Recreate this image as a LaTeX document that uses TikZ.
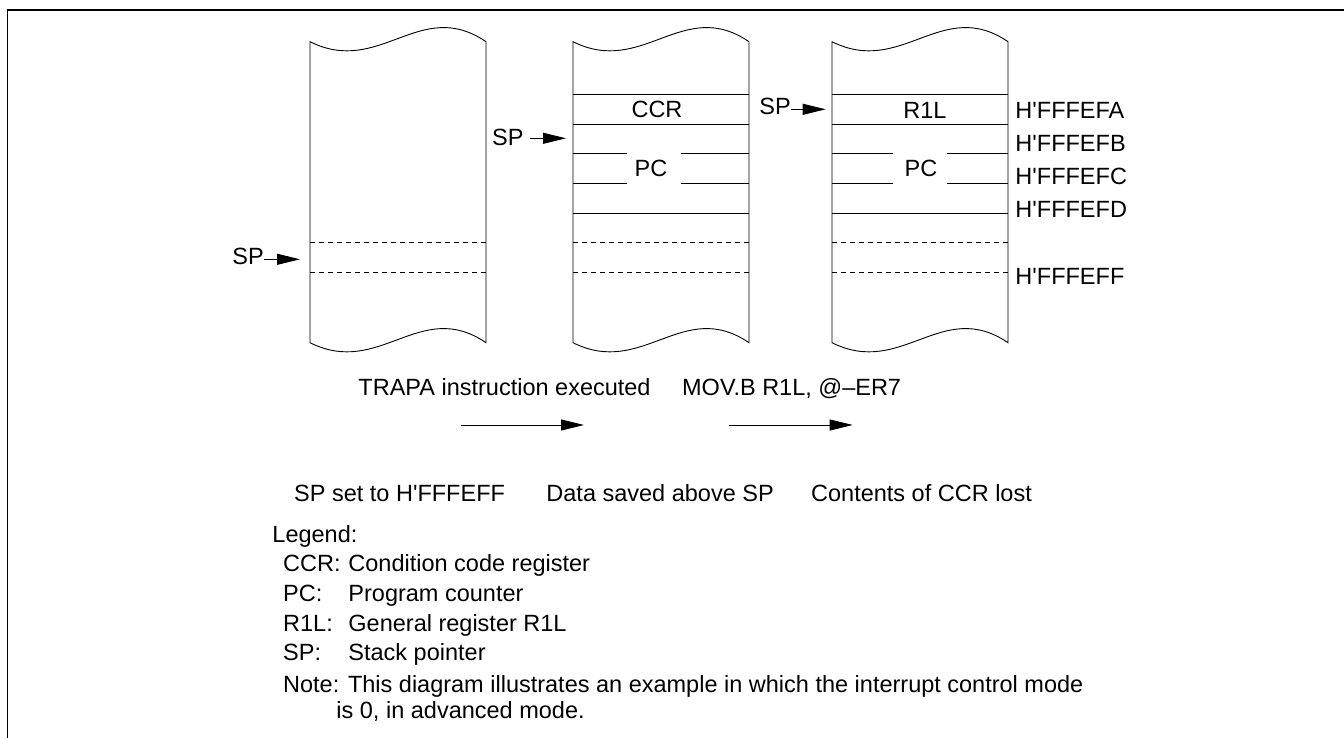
\documentclass[tikz,border=0pt]{standalone}
\usepackage{fontspec}
\newfontfamily\arialf{Liberation Sans}
\usetikzlibrary{arrows.meta}
\begin{document}
\begin{tikzpicture}[x=1pt,y=-1pt,line width=0.9pt,
 txt/.style={inner sep=0pt,font=\arialf\fontsize{23.5}{28}\selectfont},
 dsh/.style={dash pattern=on 5pt off 4pt},
 arr/.style={-{Triangle[length=23pt,width=11pt]}}]
\useasboundingbox (0,0) rectangle (1344,738);
\draw[line width=1.3pt] (7.5,738) -- (7.5,10) -- (1344,10);
% stack columns
\foreach \xl in {310,573,832}{
 \draw (\xl,41.7) .. controls (\xl+70,76.7) and (\xl+110,-3.3) .. (\xl+176,41.7)
   -- (\xl+176,342.7) .. controls (\xl+110,297.7) and (\xl+70,377.7) .. (\xl,342.7) -- cycle;
 \draw[dsh] (\xl,242.7) -- (\xl+176,242.7);
 \draw[dsh] (\xl,272.3) -- (\xl+176,272.3);
}
\foreach \xl/\ga/\gb in {573/53.7/108,832/60.7/114.7}{
 \draw (\xl,94) -- (\xl+176,94);
 \draw (\xl,124) -- (\xl+176,124);
 \draw (\xl,213.3) -- (\xl+176,213.3);
 \draw (\xl,153.5) -- (\xl+\ga,153.5) (\xl+\gb,153.5) -- (\xl+176,153.5);
 \draw (\xl,183.3) -- (\xl+\ga,183.3) (\xl+\gb,183.3) -- (\xl+176,183.3);
}
% cell labels
\node[txt,anchor=base] (ccr) at (657,117.3) {CCR};
\node[txt,anchor=base] (pc2) at (651,176.5) {PC};
\node[txt,anchor=base] (r1l) at (925,119) {R1L};
\node[txt,anchor=base] (pc3) at (921,176.5) {PC};
% SP pointers
\node[txt,anchor=base west] (sp1) at (232,265) {SP};
\node[txt,anchor=base west] (sp2) at (491.7,146) {SP};
\node[txt,anchor=base west] (sp3) at (759,115) {SP};
\coordinate (t1) at (300,259.3);
\coordinate (t2) at (566,138.3);
\coordinate (t3) at (825.7,109.3);
\draw[arr] (sp1.east |- t1) -- (t1);
\draw[arr] ([xshift=6pt]sp2.east |- t2) -- (t2);
\draw[arr] (sp3.east |- t3) -- (t3);
% addresses
\node[txt,anchor=base west] (aFA) at (1015,119) {H'FFFEFA};
\node[txt,anchor=base west] (aFB) at (1015,151.7) {H'FFFEFB};
\node[txt,anchor=base west] (aFC) at (1015,185) {H'FFFEFC};
\node[txt,anchor=base west] (aFD) at (1015,218) {H'FFFEFD};
\node[txt,anchor=base west] (aFF) at (1015,284) {H'FFFEFF};
% transitions
\node[txt,anchor=base west] (trapa) at (358,395) {TRAPA instruction executed};
\node[txt,anchor=base west] (mov) at (681.7,395) {MOV.B R1L, @–ER7};
\coordinate (a1s) at (461,425);
\coordinate (a1e) at (584,425);
\coordinate (a2s) at (729,425);
\coordinate (a2e) at (852.7,425);
\draw[arr] (a1s) -- (a1e);
\draw[arr] (a2s) -- (a2e);
\node[txt,anchor=base west] (st1) at (293.75,501) {SP set to H'FFFEFF};
\node[txt,anchor=base west] (st2) at (546,501) {Data saved above SP};
\node[txt,anchor=base west] (st3) at (810.7,501) {Contents of CCR lost};
% legend
\node[txt,anchor=base west] (leg) at (272,542) {Legend:};
\node[txt,anchor=base west] (k1) at (282.7,571.7) {CCR:};
\node[txt,anchor=base west] (v1) at (348,571.7) {Condition code register};
\node[txt,anchor=base west] (k2) at (282.7,601.7) {PC:};
\node[txt,anchor=base west] (v2) at (348,601.7) {Program counter};
\node[txt,anchor=base west] (k3) at (282.7,631.7) {R1L:};
\node[txt,anchor=base west] (v3) at (348,631.7) {General register R1L};
\node[txt,anchor=base west] (k4) at (282.7,660.5) {SP:};
\node[txt,anchor=base west] (v4) at (348,660.5) {Stack pointer};
\node[txt,anchor=base west] (note) at (282.7,692) {Note: This diagram illustrates an example in which the interrupt control mode};
\node[txt,anchor=base west] (note2) at (336,718) {is 0, in advanced mode.};
\end{tikzpicture}
\end{document}
